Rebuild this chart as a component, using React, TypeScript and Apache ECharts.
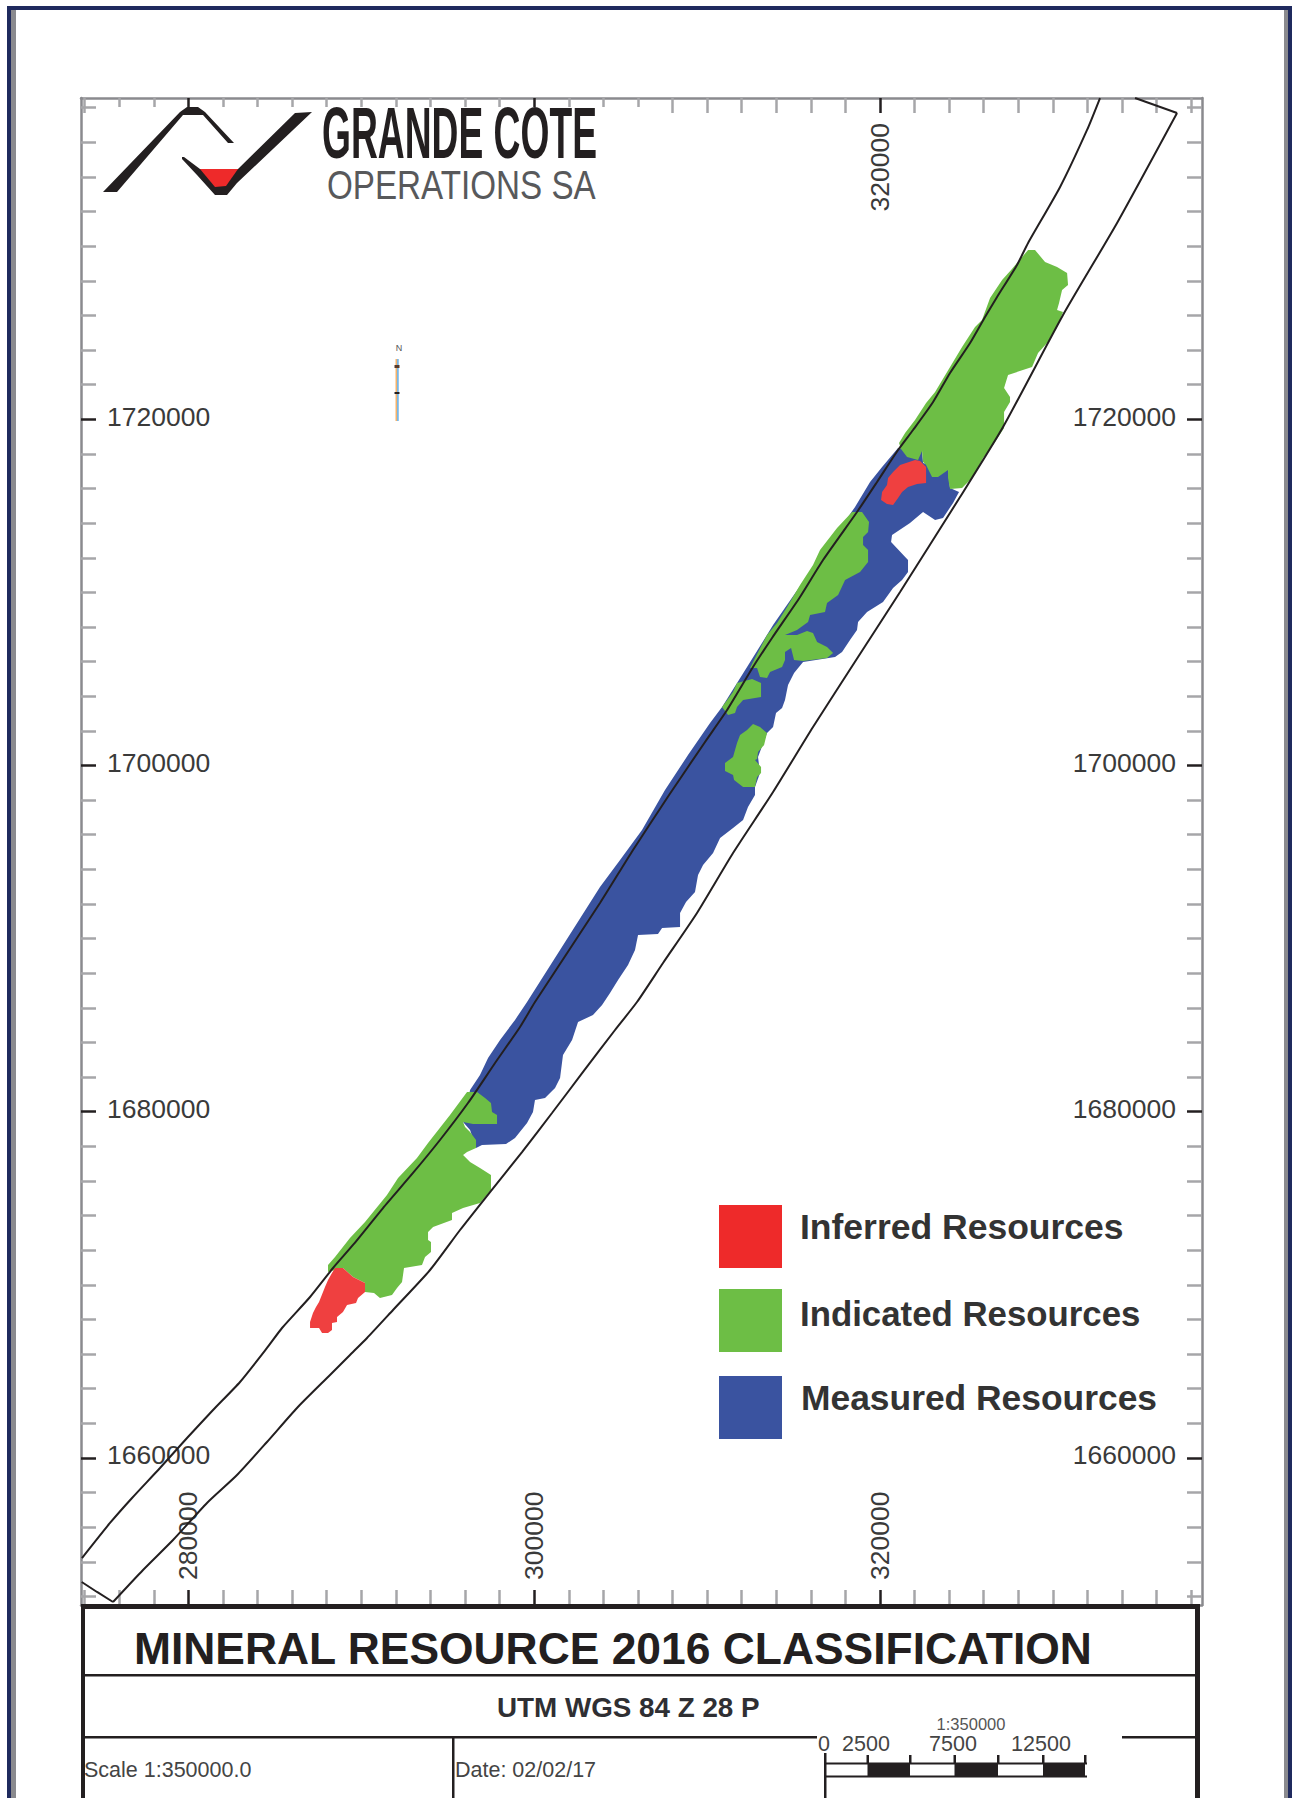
import React, { useEffect, useRef } from "react";
import * as echarts from "echarts";

const mapTitle = "MINERAL RESOURCE 2016 CLASSIFICATION";
const projection = "UTM WGS 84 Z 28 P";
const classNames = ["Inferred Resources", "Indicated Resources", "Measured Resources"];
const classColors = ["#ef4040", "#6dbe45", "#3a53a0"];
const legendColors = ["#ee2a2a", "#6dbe45", "#3a53a0"];

const xMajor = [280000, 300000, 320000];
const yMajor = [1660000, 1680000, 1700000, 1720000];
const xMinor = [274000, 276000, 278000, 282000, 284000, 286000, 288000, 290000, 292000, 294000, 296000, 298000, 302000, 304000, 306000, 308000, 310000, 312000, 314000, 316000, 318000, 322000, 324000, 326000, 328000, 330000, 332000, 334000, 336000, 338000];
const yMinor = [1652000, 1654000, 1656000, 1658000, 1662000, 1664000, 1666000, 1668000, 1670000, 1672000, 1674000, 1676000, 1678000, 1682000, 1684000, 1686000, 1688000, 1690000, 1692000, 1694000, 1696000, 1698000, 1702000, 1704000, 1706000, 1708000, 1710000, 1712000, 1714000, 1716000, 1718000, 1722000, 1724000, 1726000, 1728000, 1730000, 1732000, 1734000, 1736000, 1738000];
const topLabels = [320000];

const westBoundary = [[273845,1654215],[275465,1656240],[276740,1657685],[278355,1659415],[279920,1661150],[281425,1662765],[282985,1664385],[284545,1666350],[285415,1667505],[287035,1669295],[288365,1670970],[289520,1672300],[291255,1674435],[292990,1676460],[294550,1678365],[296170,1680500],[297735,1682815],[299180,1684895],[300045,1686335],[303805,1692055],[305715,1695120],[307800,1698295],[309880,1701360],[311155,1703205],[312655,1705690],[313755,1707365],[315375,1709735],[316705,1711870],[318670,1714645],[319830,1716380],[321045,1718225],[321910,1719380],[323070,1721000],[324050,1722675],[325210,1724410],[326075,1725910],[326770,1727065],[327925,1728915],[328565,1730185],[330415,1733420],[331975,1736715],[332725,1738560]];
const eastBoundary = [[275640,1651675],[277375,1653525],[279110,1655255],[281075,1657395],[282810,1659010],[284545,1660920],[286280,1662885],[288190,1664790],[289345,1665945],[290330,1666925],[291835,1668545],[293975,1670855],[295710,1673165],[297445,1675360],[299295,1677670],[301030,1679925],[302825,1682295],[304675,1684720],[305945,1686335],[307450,1688590],[309415,1691480],[311500,1694945],[313815,1698470],[316125,1702225],[318730,1706270],[321160,1710025],[324630,1715510],[327115,1719555],[330585,1726025],[333710,1731340],[337180,1737695]];
const southCap = [[273830,1652830],[274715,1652255],[275640,1651675]];
const northCap = [[337180,1737695],[334750,1738560]];

const measuredMain = [[321045,1718340],[322430,1718170],[322490,1717475],[323935,1717070],[324050,1716030],[324570,1715800],[324225,1715165],[323645,1714300],[323185,1714185],[322490,1714645],[321735,1714010],[320695,1713315],[320640,1712910],[321620,1711870],[321620,1711180],[321275,1710715],[320755,1710255],[320175,1709445],[319250,1708870],[318730,1708290],[318670,1707830],[318265,1707250],[317805,1706555],[317400,1706270],[315550,1705980],[315030,1705345],[314680,1704650],[314505,1703785],[314335,1703320],[313985,1703035],[313815,1702225],[313465,1701880],[312945,1700490],[313060,1699565],[312770,1698760],[312770,1698295],[312365,1697600],[312080,1696850],[311500,1696390],[310750,1695810],[310345,1694945],[309765,1694250],[309475,1693675],[309300,1692690],[308780,1692115],[308435,1691480],[308435,1690670],[307395,1690610],[307160,1690265],[306005,1690210],[305830,1689340],[305425,1688475],[304850,1687610],[304385,1686855],[303925,1686165],[303400,1685585],[302535,1685180],[302190,1684140],[301665,1683275],[301495,1681945],[301205,1681370],[300625,1680790],[300045,1680675],[299930,1679985],[299585,1679345],[298890,1678480],[298370,1678135],[296980,1678075],[296635,1677905],[296290,1678945],[295885,1679405],[296290,1681255],[296865,1682120],[297330,1683100],[298025,1684140],[298890,1685300],[299585,1686335],[303805,1692980],[304965,1694540],[306235,1696275],[307565,1698585],[308895,1700605],[310170,1702455],[310865,1703380],[312310,1705690],[313815,1708115],[318555,1714935],[319425,1716380],[320120,1717245]];

const indicatedNorth = [[328565,1729780],[328965,1729780],[329545,1729085],[330240,1728800],[330820,1728450],[330875,1727760],[330530,1727470],[330355,1726720],[330240,1726315],[330585,1726200],[330240,1725330],[329660,1724410],[329140,1723830],[328795,1723020],[327405,1722560],[327175,1721810],[327520,1721290],[327520,1721000],[327175,1720420],[327175,1719500],[326540,1718515],[325960,1717765],[325380,1716665],[324745,1716030],[324050,1715975],[323935,1716610],[323935,1717070],[323355,1716665],[323010,1716665],[322665,1717360],[322490,1717535],[322430,1718170],[322200,1717650],[321565,1717820],[321215,1718285],[321100,1718630],[321450,1719210],[322025,1719960],[322665,1720940],[323185,1721575],[323705,1722445],[324225,1723310],[324745,1724175],[325495,1725330],[325900,1725735],[326365,1727010],[327060,1728045],[327580,1728625]];
const indicatedMidStrip = [[318385,1714645],[318960,1714645],[319365,1714065],[319310,1713490],[319020,1713200],[319020,1712740],[319310,1712450],[319310,1711755],[318845,1711180],[317980,1710715],[317575,1709850],[316935,1709390],[316820,1708870],[315955,1708695],[315840,1708290],[315200,1707830],[314505,1707540],[315200,1707540],[315780,1707770],[316125,1707655],[316360,1707135],[316935,1706845],[317285,1706500],[316935,1706210],[315550,1706035],[315030,1706095],[314855,1706790],[314505,1706555],[314505,1706095],[314335,1705690],[313640,1705400],[313465,1705055],[313060,1705115],[312890,1705635],[312485,1705635],[312655,1705980],[313465,1707540],[314045,1708230],[314625,1709155],[315375,1710430],[316125,1711585],[316530,1712450],[317515,1713720]];
const indicatedSmall = [[310865,1703380],[311500,1704245],[311730,1704765],[312600,1705000],[313120,1704765],[313120,1703955],[312080,1703785],[311730,1703380],[311615,1703035],[311210,1702915]];
const indicatedLens = [[312655,1702395],[313060,1702225],[313465,1701880],[313295,1701185],[312945,1700780],[312890,1700375],[312770,1700320],[313120,1699915],[313120,1699565],[312890,1699335],[312770,1698760],[312080,1698760],[311560,1699160],[311500,1699450],[311035,1699685],[311035,1700145],[311500,1700490],[311730,1701300],[311905,1701760],[312310,1702050]];
const indicatedSouth = [[296115,1681140],[296695,1681140],[297155,1680790],[297500,1680500],[297560,1679985],[297850,1679810],[297850,1679290],[296460,1679290],[295885,1679405],[296000,1679115],[296290,1678825],[296635,1678365],[296635,1677905],[296115,1677670],[295885,1677500],[296290,1677095],[296865,1676750],[297500,1676345],[297500,1675475],[296865,1674725],[295885,1674435],[295245,1674150],[295245,1673745],[294150,1673340],[293860,1673050],[293860,1672590],[294030,1672475],[294030,1671895],[293685,1671605],[293510,1671145],[292470,1670970],[292355,1670160],[292065,1669815],[291775,1669410],[291080,1669240],[290735,1669525],[290215,1669585],[290215,1670105],[289520,1670450],[288940,1670970],[288075,1670740],[288075,1671145],[288480,1671605],[289345,1672705],[290215,1673630],[291485,1675190],[292125,1676170],[293220,1677325],[293860,1678190],[295130,1679810]];

const inferredSouth = [[288480,1670970],[288940,1670970],[289520,1670450],[290215,1670105],[290215,1669585],[289810,1669240],[289695,1668950],[289175,1668835],[288940,1668430],[288595,1668140],[288595,1667850],[288305,1667795],[288305,1667390],[288075,1667215],[287730,1667215],[287555,1667505],[287035,1667505],[287035,1667850],[287205,1668370],[287380,1668720],[287555,1669005],[287900,1669875],[288075,1670275],[288305,1670680]];
const inferredNorth = [[322025,1717650],[322315,1717590],[322665,1717245],[322665,1716320],[322140,1716260],[321620,1716090],[321275,1715800],[321045,1715455],[320755,1715050],[320405,1715105],[320060,1715340],[320120,1715800],[320405,1716205],[320465,1716610],[320755,1716955],[321160,1717360]];

const measuredPolys = [measuredMain];
const indicatedPolys = [indicatedNorth, indicatedMidStrip, indicatedSmall, indicatedLens, indicatedSouth];
const inferredPolys = [inferredSouth, inferredNorth];

const scaleLabels = [
  { text: "0", x: 824 },
  { text: "2500", x: 866 },
  { text: "7500", x: 953 },
  { text: "12500", x: 1041 },
];
const scaleTicks = [825, 867.5, 910, 954.5, 998, 1043, 1085];
const scaleFills = [false, true, false, true, false, true];

const FONT = '"Liberation Sans"';
const INK = "#231f20";
const TICK = "#a6a6a9";
const FRAME = "#8a8a8e";

const polySeries = (name: string, polys: number[][][], color: string, z: number) => ({
  type: "custom",
  name,
  xAxisIndex: 0,
  yAxisIndex: 0,
  z,
  silent: true,
  clip: false,
  itemStyle: { color },
  data: polys.map((_, i) => [i]),
  renderItem: (_p: any, api: any) => ({
    type: "polygon",
    shape: { points: polys[api.value(0)].map((pt) => api.coord(pt)) },
    style: { fill: color },
  }),
});

const lineSeries = (name: string, data: number[][], smooth = 0) => ({
  type: "line",
  name,
  xAxisIndex: 0,
  yAxisIndex: 0,
  z: 5,
  silent: true,
  showSymbol: false,
  smooth,
  data,
  lineStyle: { color: INK, width: 2 },
});

const X_MIN = 273788, X_MAX = 338623, Y_MIN = 1651502, Y_MAX = 1738561;

const plain = (v: number) => String(v);

const tickAxis = (base: any, pos: string, minor: boolean, values: number[], labels: number[] | null, label: any) => ({
  ...base,
  type: "value",
  position: pos,
  splitLine: { show: false },
  axisLine: { show: minor, onZero: false, lineStyle: { color: FRAME, width: 2.5 } },
  axisTick: {
    show: true,
    inside: true,
    length: 15,
    customValues: values,
    lineStyle: { color: minor ? TICK : INK, width: 2.5 },
  },
  axisLabel: labels
    ? { show: true, inside: true, customValues: labels, formatter: plain, fontFamily: FONT, fontSize: 26.5, color: "#3a3a3a", ...label }
    : { show: false },
});

const rect = (x: number, y: number, w: number, h: number, fill: string, z = 20) => ({
  type: "rect", z, silent: true, shape: { x, y, width: w, height: h }, style: { fill },
});
const text = (t: string, x: number, y: number, font: string, fill: string, extra: any = {}, z = 30, scaleX = 1) => ({
  type: "text", z, silent: true, x, y, scaleX,
  style: { text: t, font, fill, verticalAlign: "middle", align: "left", ...extra },
});
const poly = (pts: number[][], fill: string, z = 12) => ({
  type: "polygon", z, silent: true, shape: { points: pts }, style: { fill },
});

const graphics: any[] = [
  // page frame
  rect(7, 6, 1285, 4, "#1f2a5e"),
  rect(7, 6, 4, 1792, "#1f2a5e"),
  rect(11, 10, 5, 1788, FRAME),
  rect(1288, 6, 4, 1792, "#1f2a5e"),
  rect(1284, 10, 4, 1788, FRAME),
  // logo backing and mark
  rect(98, 107, 557, 108, "#ffffff", 10),
  poly([[103, 192], [180, 112], [187, 107], [198, 107], [205, 112], [234, 143], [228, 143], [203, 115], [183, 115], [117, 192]], INK),
  poly([[182, 157], [184, 157], [200, 169], [238, 169], [295, 113], [312, 112], [237, 183], [227, 195], [215, 195], [197, 175], [182, 159]], INK),
  poly([[200, 169], [238, 169], [226, 186], [215, 187]], "#ee2a2a", 13),
  text("GRANDE COTE", 322, 133, `bold 72px ${FONT}`, INK, {}, 14, 0.517),
  text("OPERATIONS SA", 327, 185, `40px ${FONT}`, "#58595b", {}, 14, 0.83),
  // north arrow
  rect(395.5, 359, 1.6, 62, "#f5b26b", 14),
  rect(397.1, 359, 1.6, 62, "#6ab0e6", 14),
  rect(394.5, 392, 5, 2, INK, 14),
  rect(394.5, 365, 5, 3, "#5a3a2a", 14),
  text("N", 399, 348, `9px ${FONT}`, "#555555", { align: "center" }, 14),
  // title block
  rect(81, 1604, 1119, 194, "#ffffff", 20),
  rect(81, 1604, 1119, 5, INK, 21),
  rect(81, 1604, 4, 194, INK, 21),
  rect(1195, 1604, 5, 194, INK, 21),
  rect(81, 1674, 1116, 2.5, INK, 21),
  rect(81, 1736, 736, 2.5, INK, 21),
  rect(1122, 1736, 75, 2.5, INK, 21),
  rect(452, 1737, 2.5, 61, INK, 21),
  text("Scale 1:350000.0", 84, 1770, `21.5px ${FONT}`, "#444444"),
  text("Date: 02/02/17", 455, 1770, `21.5px ${FONT}`, "#444444"),
  // scale bar
  text("1:350000", 971, 1724, `16.5px ${FONT}`, "#555555", { align: "center" }),
  ...scaleLabels.map((s) => text(s.text, s.x, 1744, `21.5px ${FONT}`, "#444444", { align: "center" })),
  rect(824, 1753, 2.5, 45, INK, 22),
  ...scaleTicks.slice(1).map((x) => rect(x - 1, 1755, 2.5, 9, INK, 22)),
  rect(824, 1762.5, 263, 2, INK, 22),
  rect(824, 1775.5, 263, 2, INK, 22),
  ...scaleFills.flatMap((on, i) =>
    on ? [rect(scaleTicks[i], 1763, scaleTicks[i + 1] - scaleTicks[i], 14, INK, 22)] : []
  ),
];

const legendAt = (i: number, top: number, textLeftGap: number, shift: number, size: number) => ({
  left: 719,
  top,
  orient: "vertical",
  itemWidth: 63,
  itemHeight: 63,
  itemGap: 0,
  padding: 0,
  selectedMode: false,
  icon: "rect",
  data: [{ name: classNames[i], itemStyle: { color: legendColors[i] } }],
  formatter: (n: string) => `{t|${n}}`,
  textStyle: {
    rich: {
      t: { fontFamily: FONT, fontSize: size, fontWeight: "bold", color: "#333333", padding: [0, 0, shift, textLeftGap] },
    },
  },
});

export default function App() {
  const ref = useRef<HTMLDivElement>(null);
  useEffect(() => {
    document.body.style.margin = "0";
    const chart = echarts.init(ref.current!, undefined, { renderer: "svg" });
    chart.setOption({
      animation: false,
      backgroundColor: "#ffffff",
      grid: { left: 81, top: 98, width: 1121, height: 1507, containLabel: false },
      title: [
        { text: mapTitle, left: 134, top: 1626, padding: 0, z: 40, textStyle: { fontFamily: FONT, fontSize: 44.4, fontWeight: "bold", color: INK } },
        { text: projection, left: 497, top: 1693, padding: 0, z: 40, textStyle: { fontFamily: FONT, fontSize: 27.8, fontWeight: "bold", color: "#2f2f33" } },
      ],
      legend: [legendAt(0, 1205, 13, 20, 35.5), legendAt(1, 1289, 13, 15, 34.8), legendAt(2, 1376, 14, 20, 35.4)],
      xAxis: [
        tickAxis({ min: X_MIN, max: X_MAX }, "bottom", true, xMinor, null, {}),
        tickAxis({ min: X_MIN, max: X_MAX }, "top", true, xMinor, null, {}),
        tickAxis({ min: X_MIN, max: X_MAX }, "bottom", false, xMajor, xMajor, { rotate: 90, margin: 25 }),
        tickAxis({ min: X_MIN, max: X_MAX }, "top", false, xMajor, topLabels, { rotate: -90, margin: 25 }),
      ],
      yAxis: [
        tickAxis({ min: Y_MIN, max: Y_MAX }, "left", true, yMinor, null, {}),
        tickAxis({ min: Y_MIN, max: Y_MAX }, "right", true, yMinor, null, {}),
        tickAxis({ min: Y_MIN, max: Y_MAX }, "left", false, yMajor, yMajor, { margin: 26, verticalAlign: "bottom", lineHeight: 5 }),
        tickAxis({ min: Y_MIN, max: Y_MAX }, "right", false, yMajor, yMajor, { margin: 26, verticalAlign: "bottom", lineHeight: 5 }),
      ],
      series: [
        polySeries(classNames[2], measuredPolys, classColors[2], 2),
        polySeries(classNames[1], indicatedPolys, classColors[1], 3),
        polySeries(classNames[0], inferredPolys, classColors[0], 4),
        lineSeries("West boundary", westBoundary, 0.2),
        lineSeries("East boundary", eastBoundary, 0.2),
        lineSeries("South cap", southCap),
        lineSeries("North cap", northCap),
      ],
      graphic: { elements: graphics },
    });
    return () => chart.dispose();
  }, []);
  return <div ref={ref} style={{ width: 1292, height: 1798, overflow: "hidden" }} />;
}
